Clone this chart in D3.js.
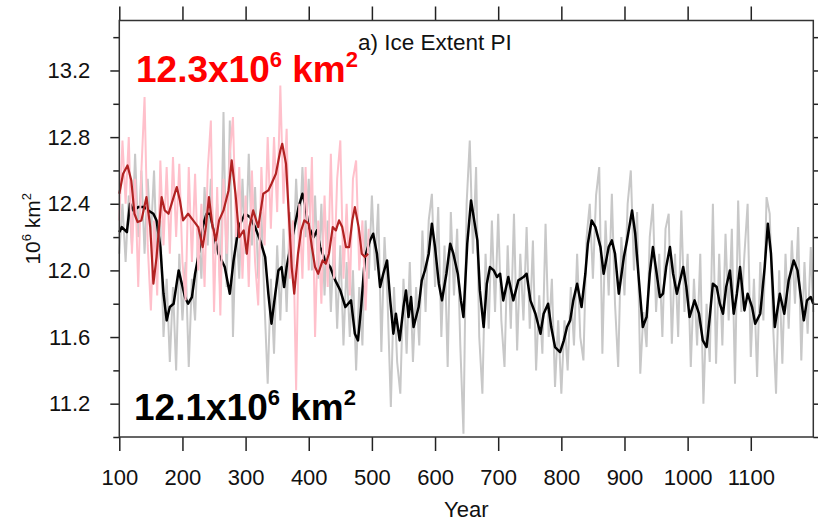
<!DOCTYPE html>
<html>
<head>
<meta charset="utf-8">
<script src="https://cdn.jsdelivr.net/npm/d3@7"></script>
<style>
  body { margin: 0; background: #fff; }
  #visContainer svg { display: block; }
  text { font-family: "Liberation Sans", Arial, Helvetica, sans-serif; }
</style>
</head>
<body>
<div id="visContainer"></div>
<script>
// tick values
const xTicks = [100, 200, 300, 400, 500, 600, 700, 800, 900, 1000, 1100];
const yMajor = [11.2, 11.6, 12.0, 12.4, 12.8, 13.2];
const yMinor = [11.0, 11.4, 11.8, 12.2, 12.6, 13.0, 13.4];

// control run, annual values (every 5th year)
const grayYears = d3.range(100, 1196, 5).concat([1199]);
const grayVals = [
  12.10, 12.40, 12.05, 12.45, 12.15, 12.70, 12.20, 12.60, 12.10, 12.55,
  12.20, 12.60, 12.00, 12.30, 11.60, 11.95, 11.45, 11.90, 11.40, 12.10,
  11.70, 12.05, 11.42, 11.95, 11.70, 12.25, 11.95, 12.50, 12.15, 12.55,
  12.10, 12.40, 11.85, 12.95, 11.90, 12.90, 11.60, 12.30, 11.95, 12.55,
  12.10, 12.70, 12.15, 12.50, 11.95, 12.35, 11.80, 11.32, 11.95, 11.50,
  12.15, 11.70, 12.25, 11.75, 12.35, 12.00, 12.55, 12.15, 12.62, 12.20,
  12.55, 12.00, 12.45, 11.95, 12.40, 11.85, 12.30, 11.75, 12.20, 11.65,
  12.15, 11.55, 12.05, 11.60, 12.00, 11.40, 11.90, 11.55, 12.30, 11.95,
  12.45, 12.00, 12.40, 11.51, 12.20, 11.80, 11.18, 11.90, 11.45, 11.26,
  11.95, 11.50, 12.05, 11.45, 11.90, 11.55, 12.24, 11.75, 12.30, 12.46,
  11.90, 12.38, 11.60, 12.15, 11.42, 12.35, 11.85, 12.25, 11.55, 11.02,
  12.40, 12.78, 12.10, 12.62, 11.60, 11.26, 12.10, 11.65, 12.30, 11.75,
  12.34, 11.70, 11.42, 12.15, 11.65, 12.34, 11.52, 12.10, 11.70, 12.26,
  11.65, 12.18, 11.40, 11.85, 11.50, 12.28, 11.60, 11.95, 11.30, 11.70,
  11.26, 11.70, 11.40, 11.90, 11.55, 12.10, 11.60, 11.46, 12.20, 12.40,
  11.95, 12.45, 12.62, 11.50, 12.30, 11.85, 12.46, 11.80, 11.42, 12.20,
  11.85, 12.40, 12.60, 12.00, 12.35, 11.38, 11.75, 11.54, 12.20, 12.40,
  11.75, 12.10, 11.60, 12.25, 12.34, 11.56, 12.10, 11.60, 12.36, 11.75,
  12.10, 11.42, 11.95, 11.55, 12.10, 11.20, 11.80, 11.45, 12.40, 11.44,
  12.10, 11.55, 12.22, 11.70, 12.25, 11.32, 12.42, 11.75, 12.10, 12.40,
  11.48, 11.95, 11.36, 12.05, 11.70, 12.44, 12.34, 11.70, 11.26, 12.00,
  11.44, 12.10, 11.65, 12.18, 11.80, 12.26, 11.46, 12.05, 11.62, 12.14,
  11.75
];

// control run, smoothed
const blackYears = [
  100, 104, 112, 117, 122, 130, 140, 146, 154, 159, 165, 170, 175, 180, 186, 194, 199,
  204, 209, 215, 220, 225, 232, 238, 244, 252, 257, 267, 275, 281, 289, 299,
  307, 315, 323, 331, 336, 341, 347, 352, 357, 361, 365, 373, 384, 390, 394,
  400, 408, 413, 418, 426, 434, 442, 450, 458, 467, 473, 478, 483, 489, 497,
  502, 508, 513, 518, 524, 529, 534, 538, 544, 550, 554, 558, 562, 566, 574, 579, 584, 590, 595,
  600, 606, 611, 618, 624, 629, 636, 641, 645, 651, 657, 662, 667, 671, 677, 682, 687, 693, 698,
  703, 708, 716, 724, 732, 740, 745, 751, 759, 767, 772, 779, 784, 790, 798,
  804, 809, 814, 819, 825, 832, 838, 842, 848, 854, 862, 867, 875, 880, 885, 891, 899,
  904, 912, 917, 922, 929, 935, 940, 945, 951, 956, 961, 966, 972, 977, 983, 993, 998,
  1003, 1011, 1018, 1024, 1030, 1035, 1040, 1046, 1051, 1056, 1061, 1067, 1073, 1078, 1083, 1090, 1095,
  1102, 1107, 1115, 1122, 1127, 1132, 1138, 1146, 1153, 1160, 1168, 1174, 1180, 1184, 1189, 1195, 1199
];
const blackVals = [
  12.23, 12.26, 12.23, 12.40, 12.36, 12.38, 12.38, 12.36, 12.34, 12.30, 12.14, 11.86, 11.70, 11.78, 11.80, 12.00, 11.92,
  11.84, 11.80, 11.84, 11.98, 12.08, 12.26, 12.34, 12.34, 12.18, 12.10, 12.02, 11.86, 12.06, 12.26, 12.34,
  12.32, 12.26, 12.18, 12.08, 11.86, 11.68, 11.86, 12.00, 12.02, 11.90, 12.02, 12.18, 12.38, 12.46, 12.40,
  12.26, 12.20, 12.24, 12.14, 12.06, 12.02, 11.94, 11.88, 11.78, 11.82, 11.62, 11.58, 11.78, 12.08, 12.18,
  12.22, 12.10, 11.90, 11.98, 12.06, 11.82, 11.62, 11.74, 11.58, 11.78, 11.88, 11.72, 11.84, 11.66, 11.78, 11.94, 12.00, 12.10, 12.28,
  12.14, 11.92, 11.82, 11.98, 12.16, 12.10, 11.98, 11.82, 11.72, 12.16, 12.42, 12.30, 12.18, 11.88, 11.66, 11.92, 12.02, 12.00, 11.96,
  11.98, 11.82, 11.96, 11.82, 11.94, 11.96, 11.98, 11.82, 11.74, 11.62, 11.74, 11.80, 11.66, 11.54, 11.51,
  11.58, 11.66, 11.70, 11.82, 11.92, 11.78, 11.98, 12.16, 12.30, 12.26, 12.14, 11.98, 12.14, 12.18, 12.10, 11.86, 12.08,
  12.18, 12.36, 12.22, 11.98, 11.66, 11.72, 11.98, 12.14, 11.98, 11.84, 11.86, 12.02, 12.14, 11.98, 11.86, 12.02, 11.90,
  11.72, 11.82, 11.74, 11.58, 11.54, 11.72, 11.92, 11.90, 11.80, 11.74, 11.90, 12.00, 11.74, 11.86, 12.02, 11.76, 11.86,
  11.78, 11.68, 11.74, 12.02, 12.28, 12.10, 11.66, 11.86, 11.74, 11.94, 12.06, 12.00, 11.82, 11.70, 11.82, 11.84, 11.80
];

// PI run, annual values (every 5th year)
const pinkYears = d3.range(100, 500, 5);
const pinkVals = [
  12.30, 12.78, 12.40, 12.80, 12.10, 12.55, 11.90, 12.60, 13.04, 12.15,
  11.76, 12.30, 11.85, 12.66, 12.15, 12.62, 12.10, 12.68, 12.20, 12.64,
  12.05, 11.82, 12.62, 12.05, 12.58, 12.00, 12.40, 11.90, 12.60, 12.90,
  11.75, 12.50, 11.73, 12.55, 12.10, 12.70, 12.92, 12.20, 12.62, 11.95,
  12.45, 11.90, 12.60, 12.05, 11.79, 12.62, 12.15, 12.80, 12.25, 12.80,
  12.35, 13.11, 12.40, 12.85, 11.95, 12.30, 11.28, 12.40, 11.95, 12.62,
  12.00, 12.68, 11.60, 12.30, 11.80, 12.45, 11.90, 12.70, 11.95, 12.55,
  12.78, 11.95, 12.40, 11.85, 12.55, 12.66, 12.00, 12.30, 11.76, 12.25
];

// PI run, smoothed
const redYears = [
  100, 106, 113, 119, 124, 129, 135, 143, 149, 154, 159, 167, 172, 178, 186, 191, 196,
  201, 209, 217, 225, 232, 237, 242, 247, 253, 258, 265, 273, 278, 284, 290, 297,
  302, 306, 312, 320, 328, 336, 341, 348, 355, 358, 364, 369, 373, 377, 383, 388, 393,
  400, 405, 410, 415, 422, 427, 432, 438, 443, 448, 453, 459, 464, 469, 473, 479, 484, 489, 494
];
const redVals = [
  12.46, 12.58, 12.63, 12.54, 12.34, 12.29, 12.30, 12.44, 12.26, 11.92, 12.08, 12.44, 12.36, 12.34, 12.44, 12.50, 12.42,
  12.30, 12.34, 12.30, 12.26, 12.14, 12.26, 12.44, 12.28, 12.18, 12.30, 12.36, 12.48, 12.66, 12.46, 12.20, 12.24,
  12.10, 12.26, 12.36, 12.26, 12.46, 12.48, 12.52, 12.58, 12.72, 12.76, 12.64, 12.30, 12.02, 11.86, 12.10, 12.24, 12.30,
  12.28, 12.14, 12.02, 11.98, 12.06, 12.04, 12.10, 12.26, 12.24, 12.30, 12.26, 12.14, 12.14, 12.30, 12.38, 12.26, 12.10, 12.08, 12.10
];

function makeVis() {
  const width = 818;
  const height = 522;
  const margins = { left: 119.3, right: 4.7, top: 20.5, bottom: 85 };
  const font = "'Liberation Sans', Arial, Helvetica, sans-serif";

  const svg = d3.create("svg")
    .attr("width", width)
    .attr("height", height);

  document.querySelector("#visContainer").append(svg.node());

  const xScale = d3.scaleLinear().domain([100, 1199]).range([margins.left, width - margins.right]);
  const yScale = d3.scaleLinear().domain([11.0, 13.5]).range([height - margins.bottom, margins.top]);

  const line = d3.line()
    .x(d => xScale(d[0]))
    .y(d => yScale(d[1]));

  const plot = svg.append("g");

  plot.append("path")
    .datum(d3.zip(grayYears, grayVals))
    .attr("d", line)
    .attr("fill", "none")
    .attr("stroke", "#c8c8c8")
    .attr("stroke-width", 2);

  plot.append("path")
    .datum(d3.zip(blackYears, blackVals))
    .attr("d", line)
    .attr("fill", "none")
    .attr("stroke", "#000")
    .attr("stroke-width", 2.5)
    .attr("stroke-linejoin", "round");

  plot.append("path")
    .datum(d3.zip(pinkYears, pinkVals))
    .attr("d", line)
    .attr("fill", "none")
    .attr("stroke", "#ffc0cb")
    .attr("stroke-width", 2);

  plot.append("path")
    .datum(d3.zip(redYears, redVals))
    .attr("d", line)
    .attr("fill", "none")
    .attr("stroke", "#b22222")
    .attr("stroke-width", 2.2)
    .attr("stroke-linejoin", "round");

  // axes, ticks point outward on all four sides
  const styleAxis = g => {
    g.select(".domain").remove();
    g.attr("font-family", font).attr("font-size", 22).attr("color", "#222");
    g.selectAll("line").attr("stroke-width", 1.5);
    g.selectAll("text").attr("fill", "#111");
  };

  svg.append("g")
    .attr("transform", `translate(0,${height - margins.bottom})`)
    .call(d3.axisBottom(xScale).tickValues(xTicks).tickSize(14).tickPadding(18).tickFormat(d3.format("d")))
    .call(styleAxis);

  svg.append("g")
    .attr("transform", `translate(0,${margins.top})`)
    .call(d3.axisTop(xScale).tickValues(xTicks).tickSize(14).tickFormat(""))
    .call(styleAxis);

  svg.append("g")
    .attr("transform", `translate(${margins.left},0)`)
    .call(d3.axisLeft(yScale).tickValues(yMajor).tickSize(9).tickPadding(20).tickFormat(d3.format(".1f")))
    .call(styleAxis);

  svg.append("g")
    .attr("transform", `translate(${margins.left},0)`)
    .call(d3.axisLeft(yScale).tickValues(yMinor).tickSize(6).tickFormat(""))
    .call(styleAxis);

  svg.append("g")
    .attr("transform", `translate(${width - margins.right},0)`)
    .call(d3.axisRight(yScale).tickValues(yMajor).tickSize(9).tickFormat(""))
    .call(styleAxis);

  svg.append("g")
    .attr("transform", `translate(${width - margins.right},0)`)
    .call(d3.axisRight(yScale).tickValues(yMinor).tickSize(6).tickFormat(""))
    .call(styleAxis);

  // frame
  svg.append("rect")
    .attr("x", margins.left)
    .attr("y", margins.top)
    .attr("width", width - margins.left - margins.right)
    .attr("height", height - margins.top - margins.bottom)
    .attr("fill", "none")
    .attr("stroke", "#333")
    .attr("stroke-width", 1.5);

  // title
  svg.append("text")
    .attr("x", 358)
    .attr("y", 50)
    .attr("font-family", font)
    .attr("font-size", 22.5)
    .attr("fill", "#111")
    .text("a) Ice Extent PI");

  // x label
  svg.append("text")
    .attr("x", (margins.left + width - margins.right) / 2)
    .attr("y", 517)
    .attr("text-anchor", "middle")
    .attr("font-family", font)
    .attr("font-size", 22)
    .attr("fill", "#111")
    .text("Year");

  // y label
  const yl = svg.append("text")
    .attr("transform", `translate(40,${(margins.top + height - margins.bottom) / 2}) rotate(-90)`)
    .attr("text-anchor", "middle")
    .attr("font-family", font)
    .attr("font-size", 21)
    .attr("fill", "#111");
  yl.append("tspan").text("10");
  yl.append("tspan").attr("font-size", 13).attr("dy", -9).text("6");
  yl.append("tspan").attr("dy", 9).text(" km");
  yl.append("tspan").attr("font-size", 13).attr("dy", -9).text("2");

  // mean value labels
  const meanLabel = (x, y, color, value) => {
    const t = svg.append("text")
      .attr("x", x)
      .attr("y", y)
      .attr("font-family", font)
      .attr("font-weight", "bold")
      .attr("font-size", 37)
      .attr("fill", color);
    t.append("tspan").text(value + "x10");
    t.append("tspan").attr("font-size", 22).attr("dy", -15).text("6");
    t.append("tspan").attr("dy", 15).text(" km");
    t.append("tspan").attr("font-size", 22).attr("dy", -15).text("2");
  };
  meanLabel(136, 82, "#ff0000", "12.3");
  meanLabel(134, 420, "#000", "12.1");
}

makeVis();
</script>
</body>
</html>
